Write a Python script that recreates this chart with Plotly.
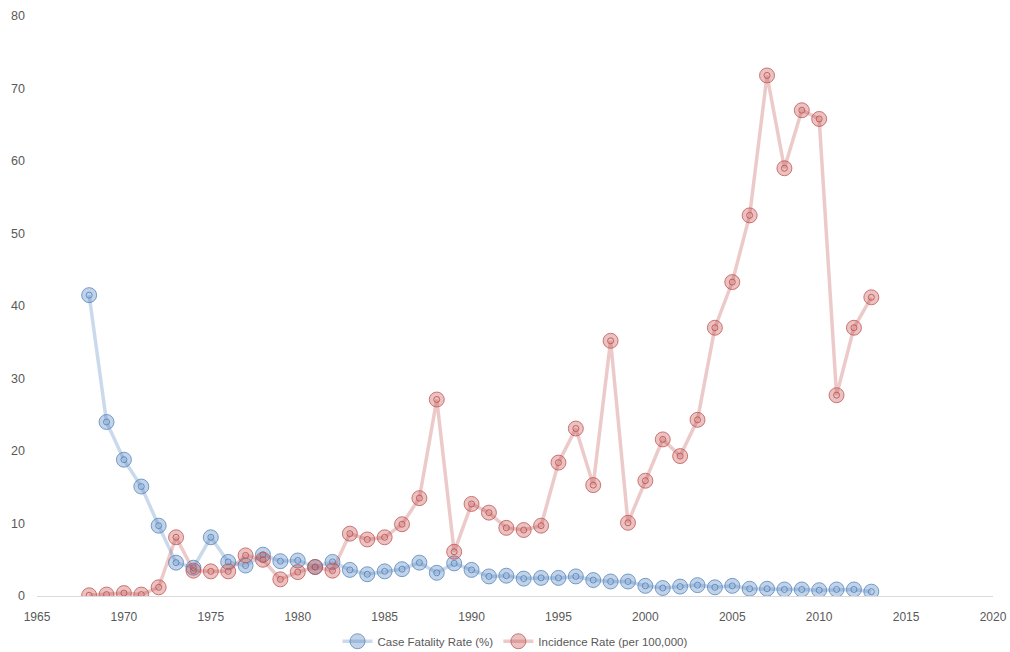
import plotly.graph_objects as go

years = list(range(1968, 2014))
case_fatality = [41.5, 24.0, 18.8, 15.1, 9.7, 4.6, 3.9, 8.1, 4.7, 4.2,
                 5.7, 4.8, 4.9, 4.0, 4.7, 3.6, 3.0, 3.4, 3.7, 4.6,
                 3.2, 4.5, 3.6, 2.7, 2.8, 2.4, 2.5, 2.5, 2.7, 2.2,
                 2.0, 2.0, 1.4, 1.1, 1.3, 1.5, 1.2, 1.4, 1.0, 1.0,
                 0.9, 0.9, 0.8, 0.9, 0.9, 0.6]
incidence = [0.1, 0.2, 0.4, 0.2, 1.2, 8.1, 3.5, 3.4, 3.4, 5.6,
             5.0, 2.3, 3.3, 4.0, 3.5, 8.6, 7.8, 8.1, 9.9, 13.5,
             27.1, 6.1, 12.7, 11.5, 9.4, 9.1, 9.7, 18.4, 23.1, 15.3,
             35.2, 10.1, 15.9, 21.6, 19.3, 24.3, 37.0, 43.3, 52.5, 71.8,
             59.0, 67.0, 65.8, 27.7, 37.0, 41.2]

x_ticks = [1965, 1970, 1975, 1980, 1985, 1990, 1995, 2000, 2005, 2010, 2015, 2020]
y_ticks = [0, 10, 20, 30, 40, 50, 60, 70, 80]

series = [
    ("Case Fatality Rate (%)", case_fatality, (79, 129, 189)),
    ("Incidence Rate (per 100,000)", incidence, (192, 80, 77)),
]

fig = go.Figure()
for name, vals, (r, g, b) in series:
    fig.add_trace(go.Scatter(
        x=years, y=vals, name=name, mode="lines+markers",
        line=dict(color=f"rgba({r},{g},{b},0.3)", width=3.5),
        marker=dict(symbol="circle", size=15,
                    color=f"rgba({r},{g},{b},0.35)",
                    line=dict(color=f"rgba({r},{g},{b},0.75)", width=1)),
    ))
    fig.add_trace(go.Scatter(
        x=years, y=vals, mode="markers", showlegend=False, hoverinfo="skip",
        marker=dict(symbol="circle-open", size=6,
                    color=f"rgba({r},{g},{b},0.85)",
                    line=dict(color=f"rgba({r},{g},{b},0.85)", width=1)),
    ))

fig.update_layout(
    width=1010, height=652,
    margin=dict(l=37, r=17, t=16, b=56, autoexpand=False),
    paper_bgcolor="white", plot_bgcolor="white",
    font=dict(family="Liberation Sans", size=12, color="#595959"),
    showlegend=True,
    legend=dict(orientation="h", x=0.5, xanchor="center", y=-0.078, yanchor="middle",
                font=dict(size=11.5, color="#595959"), itemwidth=30),
    xaxis=dict(range=[1965, 2020], tickvals=x_ticks, showgrid=False, zeroline=False,
               showline=True, linecolor="#D9D9D9", linewidth=1, ticks="",
               automargin=False, ticklabelstandoff=10,
               tickfont=dict(size=12, color="#595959")),
    yaxis=dict(range=[0, 80], tickvals=y_ticks, showgrid=False, zeroline=False,
               showline=False, ticks="", automargin=False, ticklabelstandoff=11,
               tickfont=dict(size=12.5, color="#595959")),
)

fig.write_html(
    "out.html",
    config={"displayModeBar": False},
    post_script="document.body.style.margin='0';document.body.style.overflow='hidden';"
                "document.documentElement.style.overflow='hidden';",
)
